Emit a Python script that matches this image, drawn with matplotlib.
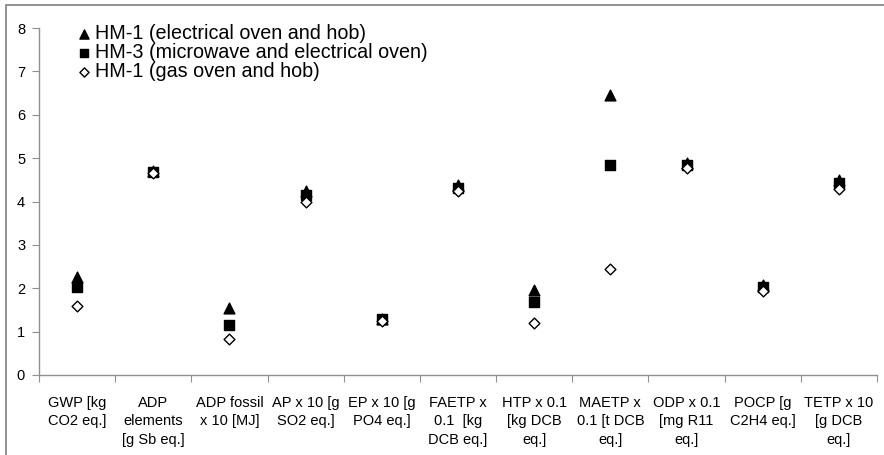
import matplotlib
matplotlib.use('Agg')
import matplotlib.pyplot as plt
from matplotlib.patches import Rectangle
import numpy as np

plt.rcParams['font.family'] = ['Liberation Sans', 'DejaVu Sans']

# impact categories (normalised units) and results per household model
categories = ['GWP [kg\nCO2 eq.]', 'ADP\nelements\n[g Sb eq.]', 'ADP fossil\nx 10 [MJ]',
              'AP x 10 [g\nSO2 eq.]', 'EP x 10 [g\nPO4 eq.]', 'FAETP x\n0.1  [kg\nDCB eq.]',
              'HTP x 0.1\n[kg DCB\neq.]', 'MAETP x\n0.1 [t DCB\neq.]', 'ODP x 0.1\n[mg R11\neq.]',
              'POCP [g\nC2H4 eq.]', 'TETP x 10\n[g DCB\neq.]']
hm1_electric = [2.27, 4.70, 1.55, 4.25, 1.28, 4.37, 1.95, 6.45, 4.88, 2.07, 4.50]
hm3_microwave = [2.02, 4.68, 1.16, 4.15, 1.30, 4.32, 1.68, 4.84, 4.85, 2.04, 4.43]
hm1_gas = [1.58, 4.66, 0.83, 3.98, 1.25, 4.25, 1.21, 2.45, 4.78, 1.93, 4.28]

fig = plt.figure(figsize=(8.84, 4.55), dpi=100)
ax = fig.add_axes([39 / 884, 1 - 375 / 455, 838 / 884, 347 / 455])

x = np.arange(len(categories))
ax.scatter(x, hm1_electric, marker='^', s=60, color='black', zorder=3,
           label='HM-1 (electrical oven and hob)')
ax.scatter(x, hm3_microwave, marker='s', s=50, color='black', zorder=3,
           label='HM-3 (microwave and electrical oven)')
ax.scatter(x, hm1_gas, marker='D', s=30, facecolor='white', edgecolor='black',
           linewidth=1, zorder=4, label='HM-1 (gas oven and hob)')

ax.set_xlim(-0.5, len(categories) - 0.5)
ax.set_ylim(0, 8)
ax.set_yticks(range(0, 9))

# category labels sit between the boundary ticks
ax.set_xticks(np.arange(len(categories) + 1) - 0.5)
ax.set_xticklabels([])
ax.set_xticks(x, minor=True)
ax.set_xticklabels(categories, minor=True, fontsize=10.5, linespacing=1.4)
ax.tick_params(axis='x', which='minor', length=0, pad=15)
ax.tick_params(axis='x', which='major', length=5, color='#909090', direction='out')
ax.tick_params(axis='y', length=5, color='#909090', labelsize=10.5, pad=5)

for side in ['top', 'right']:
    ax.spines[side].set_visible(False)
for side in ['left', 'bottom']:
    ax.spines[side].set_color('#909090')
    ax.spines[side].set_linewidth(1)

leg = ax.legend(loc='upper left', bbox_to_anchor=(0.033, 1.035), frameon=False,
                fontsize=14.2, handletextpad=0.05, labelspacing=0.0,
                handlelength=1.0, borderaxespad=0, markerscale=0.85)

# outer chart border
fig.patches.append(Rectangle((6 / 884, -0.1), 1.1, 1 - 5 / 455 + 0.1,
                             transform=fig.transFigure, fill=False,
                             edgecolor='#808080', linewidth=1.2))

fig.savefig('out.png', dpi=100)
